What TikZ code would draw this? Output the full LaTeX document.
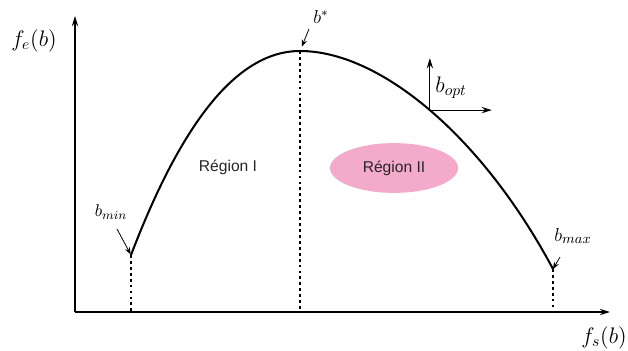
\documentclass[tikz,border=0pt]{standalone}
\usepackage{fontspec}
\newfontfamily\regionfont{Liberation Sans}
\usetikzlibrary{arrows.meta,shapes.geometric}
\definecolor{regionpink}{RGB}{244,170,202}

\begin{document}
\begin{tikzpicture}[x=0.0225cm, y=-0.0225cm,
    axis/.style={-{Stealth[length=6.5pt,width=4pt]}, line width=0.8pt},
    curve/.style={line width=1.3pt},
    guide/.style={line width=0.9pt, dash pattern=on 1.8pt off 2pt},
    pointer/.style={-{Stealth[length=4.5pt,width=3.5pt]}, line width=0.5pt},
    region/.style={font=\regionfont\normalsize, text=black!85},
    lbl/.style={inner sep=1pt}
  ]
    \useasboundingbox (0,0) rectangle (628,351);

    % axes
    \coordinate (O) at (75,312);
    \coordinate (ytip) at (75,16);
    \coordinate (xtip) at (610,312);
    \draw[axis] (O) -- (ytip);
    \draw[axis] (O) -- (xtip);
    \node[font=\fontsize{14}{16}\selectfont] (fe) at (34,41) {$f_e(b)$};
    \node[font=\fontsize{14}{16}\selectfont] (fs) at (604,338) {$f_s(b)$};

    % curve
    \coordinate (bmin) at (131,255);
    \coordinate (bstar) at (300,51);
    \coordinate (bmax) at (553,269);
    \draw[curve] (bmin) .. controls (175,140) and (230,51) .. (bstar)
      .. controls (380,51) and (482,136) .. coordinate[pos=0.5] (opt) (bmax);

    \draw[guide] (bmin) -- (bmin |- O);
    \draw[guide] (bstar) -- (bstar |- O);
    \draw[guide] (bmax) -- (bmax |- O);

    % labels
    \node[lbl, font=\fontsize{11}{13}\selectfont] (bminlbl) at (111,212) {$b_{min}$};
    \node[lbl, font=\fontsize{12}{14}\selectfont] (bstarlbl) at (321,17) {$b^{*}$};
    \node[lbl, font=\fontsize{13}{15}\selectfont] (bmaxlbl) at (573,236) {$b_{max}$};
    \node[lbl, font=\fontsize{14}{16}\selectfont] (boptlbl) at (451,88) {$b_{opt}$};
    \coordinate (bmintail) at (117,229);
    \coordinate (bstartail) at (309,29);
    \coordinate (bmaxtail) at (560,257);
    \draw[pointer, shorten >=0.5pt] (bmintail) -- (bmin);
    \draw[pointer, shorten >=3pt] (bstartail) -- (bstar);
    \draw[pointer] (bmaxtail) -- (bmax);

    \path (opt) ++(0,-52) coordinate (optup);
    \path (opt) ++(62,0) coordinate (optright);
    \draw[axis, line width=0.7pt] (opt) -- (optup);
    \draw[axis, line width=0.7pt] (opt) -- (optright);

    \node[region] (r1) at (228,167) {Région I};
    \node[region, ellipse, fill=regionpink, minimum width=2.88cm, minimum height=1.12cm] (r2) at (394,168) {Région II};
\end{tikzpicture}
\end{document}
